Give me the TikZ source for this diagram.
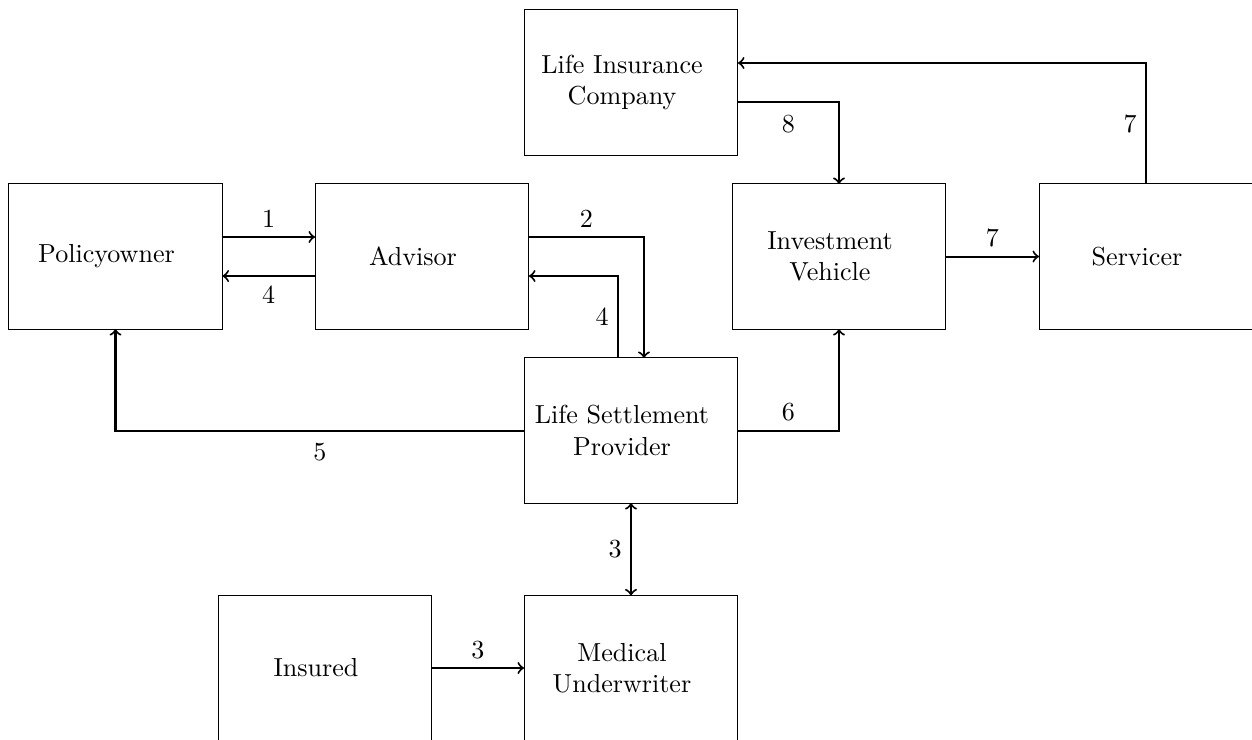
\documentclass[tikz,border=0pt]{standalone}
\begin{document}
\begin{tikzpicture}[x=0.014025cm,y=-0.014025cm,
  every node/.style={font=\fontsize{10.4}{12.5}\selectfont},
  box/.style={draw, thin, minimum width=3cm, minimum height=2.034cm, inner sep=0pt, outer sep=0pt},
  txt/.style={align=center, xshift=-0.126cm, inner sep=0pt},
  conn/.style={thick,->}]
\useasboundingbox (0,0) rectangle (1252,740);
\clip (0,0) rectangle (1252,740);
\node[box, label={[txt]center:Life Insurance\\Company}] (lic) at (631,82.5) {};
\node[box, label={[txt]center:Policyowner}] (po) at (115.5,256.5) {};
\node[box, label={[txt]center:Advisor}] (adv) at (422,256.5) {};
\node[box, label={[txt]center:Investment\\Vehicle}] (iv) at (839,256.5) {};
\node[box, label={[txt]center:Servicer}] (ser) at (1146,256.5) {};
\node[box, label={[txt]center:Life Settlement\\Provider}] (lsp) at (631,430.5) {};
\node[box, label={[txt]center:Insured}] (ins) at (325,668) {};
\node[box, label={[txt]center:Medical\\Underwriter}] (mu) at (631,668) {};

\draw[conn] ([yshift=0.2735cm]po.east) -- ([yshift=0.2735cm]adv.west) node[midway,above]{1};
\draw[conn] ([yshift=-0.2735cm]adv.west) -- ([yshift=-0.2735cm]po.east) node[midway,below]{4};
\draw[conn] ([yshift=0.2735cm]adv.east) -| ([xshift=0.182cm]lsp.north) node[pos=0.25,above]{2};
\draw[conn] ([xshift=-0.182cm]lsp.north) |- ([yshift=-0.2735cm]adv.east) node[pos=0.25,left]{4};
\draw[conn] ([yshift=-0.2735cm]lic.east) -| (iv.north) node[pos=0.25,below=1.5pt]{8};
\draw[conn] (ser.north) |- ([yshift=0.2735cm]lic.east) node[pos=0.25,left]{7};
\draw[conn] (iv.east) -- (ser.west) node[midway,above]{7};
\draw[conn] (lsp.east) -| (iv.south) node[pos=0.25,above]{6};
\draw[conn] (lsp.west) -| (po.south) node[pos=0.25,below=1.5pt]{5};
\draw[thick,<->] (lsp.south) -- (mu.north) node[midway,left]{3};
\draw[conn] (ins.east) -- (mu.west) node[midway,above]{3};
\end{tikzpicture}
\end{document}
